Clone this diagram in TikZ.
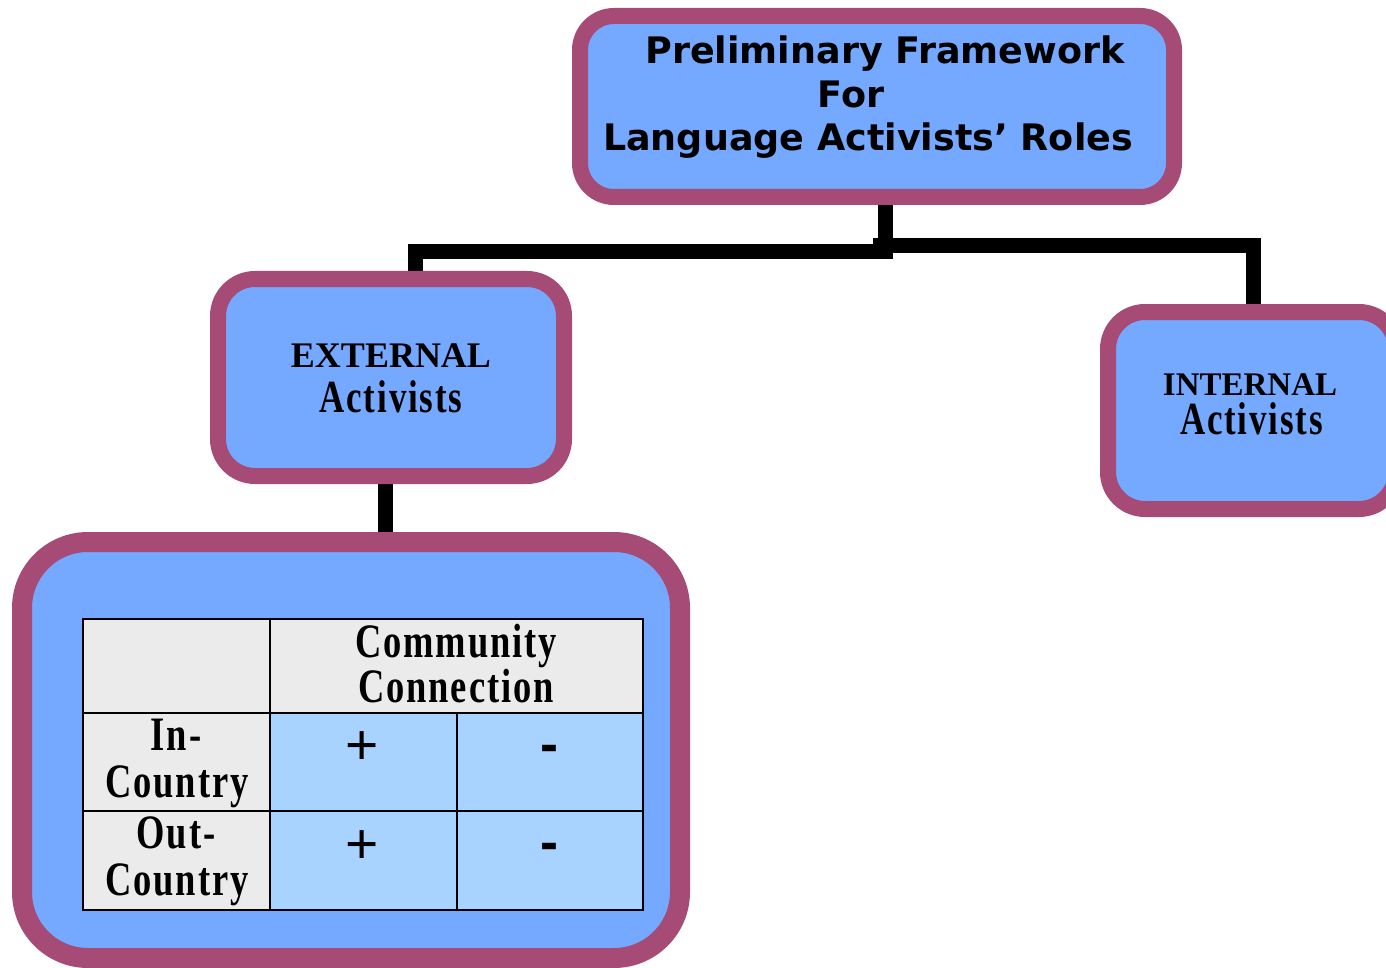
\documentclass[tikz,border=0pt]{standalone}
\usepackage{fontspec}
\setmainfont{Liberation Serif}
\newfontfamily\titlefont{DejaVu Sans}
\newfontfamily\condfont{Liberation Serif}[FakeStretch=0.76,LetterSpace=4]
\newfontfamily\signfont{Liberation Sans}
\definecolor{bordercol}{HTML}{A64A76}
\definecolor{boxblue}{HTML}{75A8FF}
\definecolor{cellblue}{HTML}{A8D2FF}
\definecolor{cellgrey}{HTML}{EBEBEB}
\begin{document}
\begin{tikzpicture}[x=1pt,y=-1pt,
  box/.style={draw=bordercol, fill=boxblue, line width=16pt, rounded corners=34pt, inner sep=0pt},
  conn/.style={draw=black, line width=15pt, line cap=butt},
  lbl/.style={inner sep=0pt, anchor=base},
  ttl/.style={lbl, font=\titlefont\bfseries\fontsize{36.5}{43}\selectfont},
  capsfont/.style={lbl, font=\bfseries\fontsize{#1}{#1}\selectfont},
  condtext/.style={lbl, font=\condfont\bfseries\fontsize{#1}{#1}\selectfont},
  sign/.style={lbl, font=\signfont\fontsize{57}{57}\selectfont},
  minus/.style={lbl, font=\signfont\bfseries\fontsize{54}{54}\selectfont},
  grid/.style={draw=black, line width=2pt}
]
\useasboundingbox (0,0) rectangle (1386,968);

% connector junction coordinates
\coordinate (jv) at (885,240);
\coordinate (jl0) at (893,251.5);
\coordinate (jL) at (415,251.5);
\coordinate (jr0) at (873,246);
\coordinate (jR) at (1253.5,246);
\coordinate (jx) at (385.5,500);

% connectors (drawn first, their ends hidden under the boxes)
\draw[conn] (jv |- 0,197) -- (jv);
\draw[conn] (jl0) -- (jL) -- (jL |- 0,285);
\draw[conn] (jr0) -- (jR) -- (jR |- 0,318);
\draw[conn] (jx |- 0,470) -- (jx |- 0,548);

% boxes
\node[box, minimum width=594pt, minimum height=181pt] (top) at (877,106.5) {};
\node[box, minimum width=346pt, minimum height=197pt, rounded corners=37pt] (ext) at (391,377.5) {};
\node[box, minimum width=288pt, minimum height=197pt, rounded corners=37pt] (int) at (1252,410.5) {};
\node[box, line width=20pt, minimum width=658pt, minimum height=416pt, rounded corners=66pt] (big) at (351,750) {};

% title
\node[ttl] (t1) at (885,64) {Preliminary Framework};
\node[ttl] (t2) at (851,108) {For};
\node[ttl] (t3) at (868,151) {Language Activists’ Roles};

% external / internal
\node[capsfont=36] (e1) at (391,367) {EXTERNAL};
\node[condtext=46] (e2) at (391,412) {Activists};
\node[capsfont=33] (i1) at (1250,395) {INTERNAL};
\node[condtext=46] (i2) at (1251.5,434) {Activists};

% table
\fill[cellgrey] (83,619) rectangle (643,713);
\fill[cellgrey] (83,713) rectangle (270,910);
\fill[cellblue] (270,713) rectangle (643,910);
\draw[grid] (83,713) -- (643,713);
\draw[grid] (83,811) -- (643,811);
\draw[grid] (270,619) -- (270,910);
\draw[grid] (457,713) -- (457,910);
\draw[draw=black, line width=2.5pt] (83,619) rectangle (643,910);

\node[condtext=48] (c1) at (456,657) {Community};
\node[condtext=48] (c2) at (456,702) {Connection};
\node[condtext=48] (r1a) at (176,750) {In-};
\node[condtext=48] (r1b) at (177,797) {Country};
\node[condtext=48] (r2a) at (176,848) {Out-};
\node[condtext=48] (r2b) at (177,895) {Country};

\node[sign] (p1) at (362.5,764.5) {+};
\node[sign] (p2) at (362.5,863) {+};
\node[minus] (m1) at (549.5,762) {-};
\node[minus] (m2) at (549.5,860) {-};
\end{tikzpicture}
\end{document}
